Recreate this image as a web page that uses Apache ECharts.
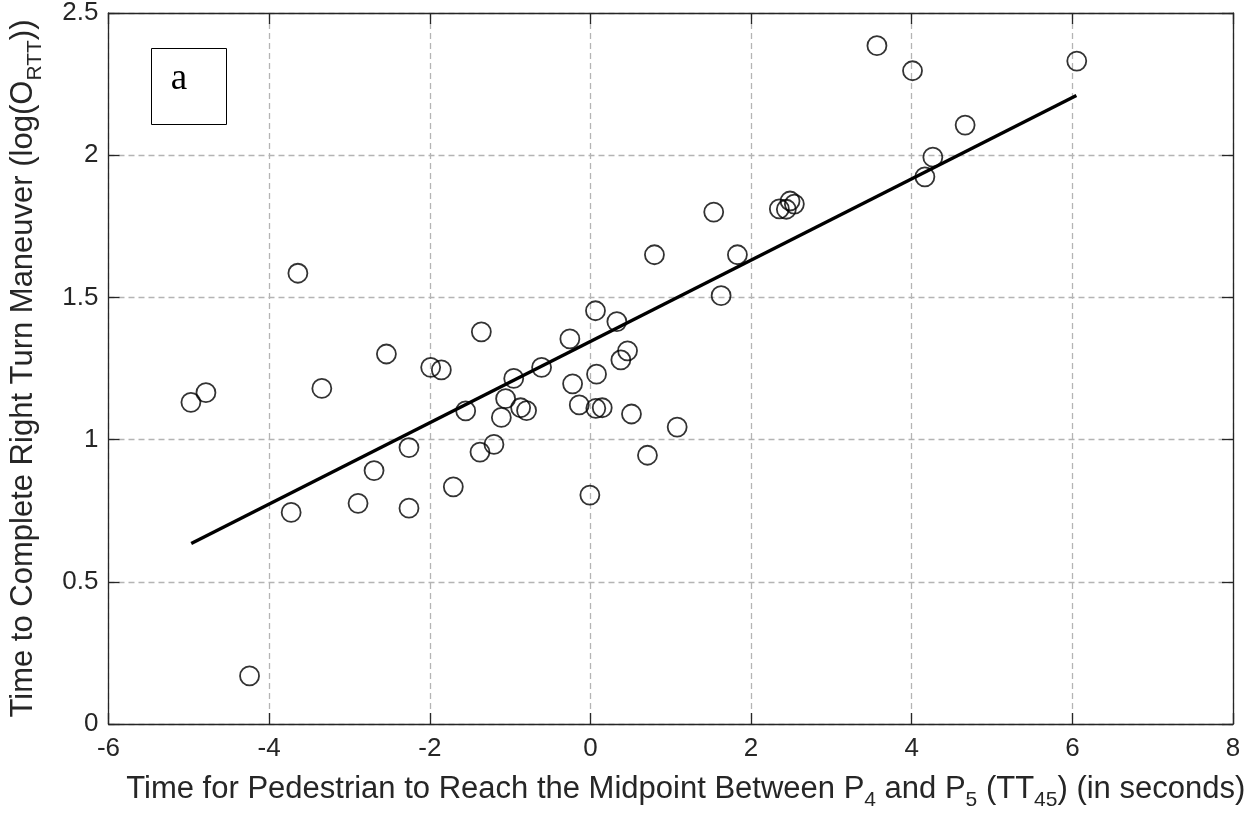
<!DOCTYPE html>
<html><head><meta charset="utf-8">
<script src="https://cdn.jsdelivr.net/npm/echarts@6/dist/echarts.min.js"></script>
<style>html,body{margin:0;padding:0;background:#fff}#c{width:1257px;height:817px}</style>
</head><body><div id="c"></div>
<script>
// Observed points: TT45 (s) vs log(O_RTT)
const tt45 = [-4.974,-4.787,-4.244,-3.726,-3.642,-3.344,-2.893,-2.694,-2.540,-2.259,-2.259,-1.989,-1.856,-1.707,-1.553,-1.375,-1.358,-1.201,-1.109,-1.056,-0.955,-0.869,-0.795,-0.608,-0.256,-0.222,-0.139,-0.007,0.063,0.067,0.076,0.147,0.329,0.379,0.462,0.511,0.710,0.797,1.080,1.535,1.627,1.830,2.352,2.439,2.485,2.539,3.567,4.010,4.164,4.263,4.665,6.055];
const logRTT = [1.131,1.165,0.169,0.744,1.585,1.180,0.776,0.891,1.301,0.972,0.759,1.254,1.245,0.834,1.101,0.956,1.379,0.983,1.078,1.144,1.215,1.112,1.102,1.254,1.354,1.196,1.122,0.805,1.453,1.110,1.230,1.112,1.415,1.280,1.312,1.090,0.945,1.650,1.044,1.800,1.506,1.650,1.811,1.810,1.839,1.828,2.385,2.297,1.924,1.993,2.106,2.331];
// Fitted regression line endpoints
const fitX = [-4.97, 6.05];
const fitY = [0.635, 2.21];
const xRange = [-6, 8], xStep = 2;
const yRange = [0, 2.5], yStep = 0.5;
const panelLabel = 'a';

const FONT = "'Liberation Sans', Arial, Helvetica, sans-serif";
const TXT = '#262626';
const scatterData = tt45.map((x, i) => [x, logRTT[i]]);
const lineData = fitX.map((x, i) => [x, fitY[i]]);

const axisLine = {show: true, onZero: false, lineStyle: {color: TXT, width: 1.3}};
const tick = {show: true, inside: true, length: 11, lineStyle: {color: TXT, width: 1.3}};
const split = {show: true, lineStyle: {type: [6, 4], color: '#b4b4b4', width: 1.3}};
const titleRich = {
  n: {fontSize: 31, lineHeight: 44, color: TXT, fontFamily: FONT},
  s: {fontSize: 21, lineHeight: 14, verticalAlign: 'bottom', color: TXT, fontFamily: FONT}
};

const chart = echarts.init(document.getElementById('c'), null, {renderer: 'canvas'});
chart.setOption({
  animation: false,
  backgroundColor: '#fff',
  grid: {left: 107.5, right: 24, top: 13, bottom: 93, containLabel: false},
  xAxis: [{
    type: 'value', min: xRange[0], max: xRange[1], interval: xStep, position: 'bottom',
    axisLine, axisTick: tick, splitLine: split,
    axisLabel: {fontSize: 26, color: TXT, fontFamily: FONT, margin: 12},
    name: '{n|Time for Pedestrian to Reach the Midpoint Between P}{s|4}{n| and P}{s|5}{n| (TT}{s|45}{n|) (in seconds)}',
    nameLocation: 'middle', nameGap: 43,
    nameTextStyle: {color: TXT, fontFamily: FONT, fontSize: 31, padding: [0, 0, 0, 30], rich: titleRich}
  }, {
    type: 'value', min: xRange[0], max: xRange[1], interval: xStep, position: 'top',
    axisLine, axisTick: tick, splitLine: {show: false}, axisLabel: {show: false}
  }],
  yAxis: [{
    type: 'value', min: yRange[0], max: yRange[1], interval: yStep, position: 'left',
    axisLine, axisTick: tick, splitLine: split,
    axisLabel: {fontSize: 26, color: TXT, fontFamily: FONT, margin: 10},
    name: '{n|Time to Complete Right Turn Maneuver (log(O}{s|RTT}{n|))}',
    nameLocation: 'middle', nameGap: 63,
    nameTextStyle: {color: TXT, fontFamily: FONT, fontSize: 31, rich: titleRich}
  }, {
    type: 'value', min: yRange[0], max: yRange[1], interval: yStep, position: 'right',
    axisLine, axisTick: tick, splitLine: {show: false}, axisLabel: {show: false}
  }],
  series: [{
    type: 'scatter', data: scatterData, symbol: 'circle', symbolSize: 19,
    itemStyle: {color: 'rgba(0,0,0,0)', borderColor: '#000', borderWidth: 1.8},
    emphasis: {disabled: true}, silent: true, z: 3
  }, {
    type: 'line', data: lineData, symbol: 'none',
    lineStyle: {color: '#000', width: 3.4}, emphasis: {disabled: true}, silent: true, z: 4
  }],
  graphic: [{
    type: 'group', left: 151, top: 48, children: [
      {type: 'rect', shape: {x: 0.5, y: 0.5, width: 75, height: 76}, style: {fill: '#fff', stroke: '#000', lineWidth: 1}},
      {type: 'text', x: 28, y: 31, style: {text: panelLabel, font: "37px 'Liberation Serif', 'Times New Roman', serif", fill: '#000', textAlign: 'center', textVerticalAlign: 'middle'}}
    ]
  }]
});
</script>
</body></html>
